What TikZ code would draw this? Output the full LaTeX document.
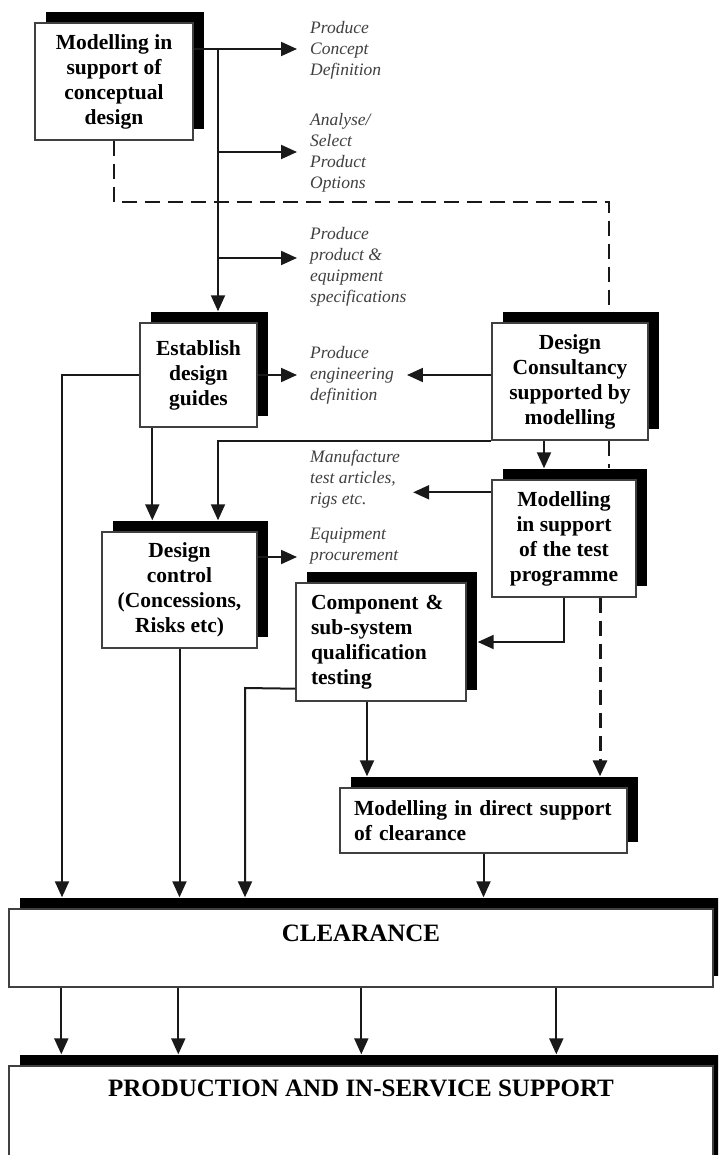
\documentclass[tikz,border=0pt]{standalone}
\usepackage{fontspec}
\setmainfont{Liberation Serif}
\usetikzlibrary{arrows.meta, shadows}

\begin{document}
\begin{tikzpicture}[
    x=1pt, y=-1pt,
    every node/.style={font=\bfseries\fontsize{21.5}{25}\selectfont, align=center, text=black},
    arr/.style={-{Triangle[length=16pt, width=14pt]}, line width=2pt, draw=black!90},
    toshadow/.style={shorten >=11pt},
    dashline/.style={line width=2.4pt, draw=black!90, dash pattern=on 15pt off 8pt},
    stage/.style={
      rectangle, draw=black!75, line width=1.4pt, fill=white,
      inner sep=0pt,
      general shadow={fill=black, shadow xshift=11pt, shadow yshift=11pt}
    },
    wide/.style={stage, minimum width=704pt, font=\bfseries\fontsize{25}{30}\selectfont},
    act/.style={
      font=\itshape\fontsize{17.5}{21}\selectfont, text=black!75, align=left,
      anchor=west, inner xsep=13pt, inner ysep=0pt
    }
  ]

    \clip (0,0) rectangle (718,1155);
    \fill[white] (0,0) rectangle (718,1155);

    % boxes
    \node[stage, minimum width=158pt, minimum height=117pt] (concept) at (114,81.5)
      {Modelling in\\support of\\conceptual\\design};
    \node[stage, minimum width=117pt, minimum height=104pt] (guides) at (198.5,375)
      {Establish\\design\\guides};
    \node[stage, minimum width=156pt, minimum height=117pt] (consult) at (570,381.5)
      {Design\\Consultancy\\supported by\\modelling};
    \node[stage, minimum width=155pt, minimum height=116pt] (control) at (179.5,590)
      {Design\\control\\(Concessions,\\Risks etc)};
    \node[stage, minimum width=144pt, minimum height=117pt] (testprog) at (564,538.5)
      {Modelling\\in support\\of the test\\programme};
    \node[stage, minimum width=170pt, minimum height=118pt, text width=140pt, align=left] (qualif) at (381,642)
      {Component \&\\sub-system\\qualification\\testing};
    \node[stage, minimum width=287pt, minimum height=65pt, text width=259pt, align=left] (direct) at (483.5,820.5)
      {Modelling in direct support\\of clearance};
    \node[wide, minimum height=78pt, text depth=30pt] (clear) at (361,948) {CLEARANCE};
    \node[wide, minimum height=108pt, text depth=64pt] (prod) at (361,1120)
      {PRODUCTION AND IN-SERVICE SUPPORT};

    % activities
    \node[act] (pcd) at (297,50) {Produce\\Concept\\Definition};
    \node[act] (pso) at (297,152.5) {Analyse/\\Select\\Product\\Options};
    \node[act] (spec) at (297,267) {Produce\\product \&\\equipment\\specifications};
    \node[act] (engdef) at (297,375) {Produce\\engineering\\definition};
    \node[act] (manuf) at (297,479) {Manufacture\\test articles,\\rigs etc.};
    \node[act] (equip) at (297,546.5) {Equipment\\procurement};

    % junctions
    \coordinate (trunk) at (218,49);
    \coordinate (b2) at (218,152);
    \coordinate (b3) at (218,258);
    \coordinate (lx) at (62,375);
    \coordinate (dx) at (609,202);
    \coordinate (qx) at (245,688);
    \coordinate (dm) at ([xshift=-26pt]consult.south);
    \coordinate (gc) at ([xshift=13pt]guides.south west);
    \coordinate (eq) at ([yshift=33pt]control.east);
    \coordinate (mf) at ([yshift=-13pt]testprog.north west);
    \coordinate (cq) at ([yshift=13pt]qualif.south west);
    \coordinate (cd) at ([xshift=-14pt]qualif.south);
    \coordinate (dt) at ([xshift=36pt]testprog.south);

    % concept trunk
    \draw[arr] (concept.east |- trunk) -- (trunk -| pcd.west);
    \draw[arr, toshadow] (trunk) -- (trunk |- guides.north);
    \draw[arr] (b2) -- (b2 -| pso.west);
    \draw[arr] (b3) -- (b3 -| spec.west);

    \draw[arr] (guides.east) -- (engdef.west);
    \draw[arr] (consult.west |- engdef) -- (engdef.east);
    \draw[arr, toshadow] (dm) -- (dm |- testprog.north);
    \draw[arr, toshadow] (consult.south west) -| (trunk |- control.north);
    \draw[arr, toshadow] (gc) -- (gc |- control.north);
    \draw[arr, toshadow] (guides.west) -- (lx) -- (lx |- clear.north);

    \draw[arr] (eq) -- (eq -| equip.west);
    \draw[arr] (mf) -- (mf -| manuf.east);
    \draw[arr, toshadow] (testprog.south) |- (qualif.east);
    \draw[arr, toshadow] (cq) -- (qx) -- (qx |- clear.north);
    \draw[arr, toshadow] (control.south) -- (control.south |- clear.north);
    \draw[arr, toshadow] (cd) -- (cd |- direct.north);
    \draw[arr, toshadow] (direct.south) -- (direct.south |- clear.north);

    % dashed link
    \draw[dashline, toshadow] (concept.south) |- (dx) -- (dx |- consult.north);
    \draw[dashline, toshadow] (dx |- consult.south) -- (dx |- testprog.north);
    \draw[arr, dashline, line width=3pt, toshadow] (dt) -- (dt |- direct.north);

    % clearance to production
    \foreach \off in {53,170,353,548}
      \draw[arr, toshadow] ([xshift=\off pt]clear.south west) -- ([xshift=\off pt]prod.north west);

\end{tikzpicture}
\end{document}
